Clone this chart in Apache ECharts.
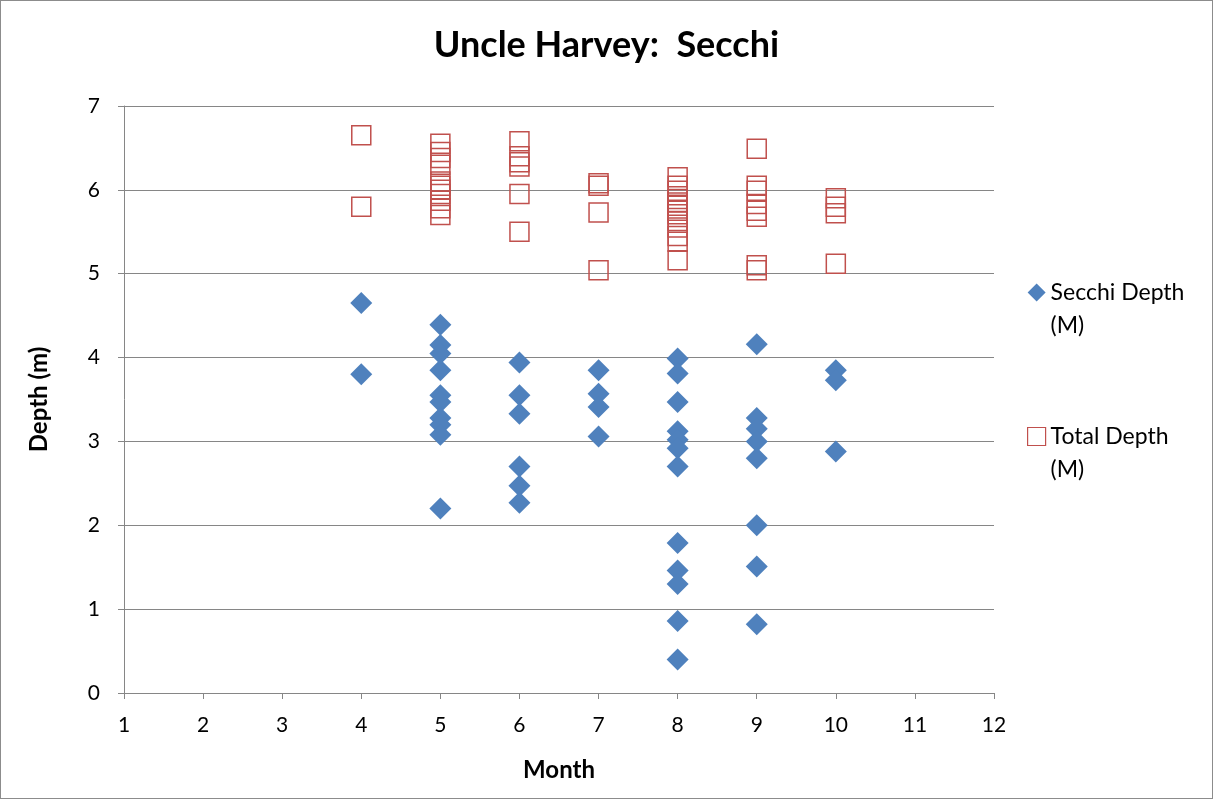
<!DOCTYPE html>
<html>
<head>
<meta charset="utf-8">
<script src="https://cdn.jsdelivr.net/npm/echarts@6/dist/echarts.min.js"></script>
<style>
html,body{margin:0;padding:0;background:#fff;}
#c{width:1213px;height:799px;box-sizing:border-box;border:1px solid #8c8c8c;}
</style>
</head>
<body>
<div id="c"></div>
<script>
// Month numbers for each column
const months = [4, 5, 6, 7, 8, 9, 10];
// Secchi depth values (m) per month
const secchi4 = [4.65, 3.8];
const secchi5 = [4.39, 4.15, 4.05, 3.85, 3.55, 3.47, 3.28, 3.2, 3.08, 2.2];
const secchi6 = [3.94, 3.55, 3.33, 2.7, 2.47, 2.27];
const secchi7 = [3.85, 3.57, 3.41, 3.06];
const secchi8 = [3.99, 3.81, 3.47, 3.12, 3.02, 2.92, 2.7, 1.79, 1.46, 1.3, 0.86, 0.4];
const secchi9 = [4.16, 3.28, 3.15, 3.0, 2.8, 2.0, 1.51, 0.82];
const secchi10 = [3.85, 3.73, 2.88];
// Total depth values (m) per month
const total4 = [6.65, 5.8];
const total5 = [6.55, 6.45, 6.38, 6.3, 6.1, 6.05, 6.0, 5.95, 5.87, 5.78, 5.7];
const total6 = [6.58, 6.4, 6.33, 6.28, 5.95, 5.5];
const total7 = [6.08, 6.05, 5.73, 5.04];
const total8 = [6.15, 6.05, 5.99, 5.89, 5.85, 5.81, 5.75, 5.71, 5.63, 5.55, 5.45, 5.38, 5.16];
const total9 = [6.49, 6.05, 5.99, 5.83, 5.75, 5.68, 5.1, 5.04];
const total10 = [5.9, 5.8, 5.72, 5.12];
const xTicks = [1,2,3,4,5,6,7,8,9,10,11,12];
const yTicks = [0,1,2,3,4,5,6,7];

const secchiByMonth = [secchi4, secchi5, secchi6, secchi7, secchi8, secchi9, secchi10];
const totalByMonth = [total4, total5, total6, total7, total8, total9, total10];
function pairs(groups){
  const out = [];
  groups.forEach((g,i)=>g.forEach(v=>out.push([months[i], v])));
  return out;
}

const FONT = 'Lato, "Open Sans", sans-serif';
const chart = echarts.init(document.getElementById('c'), null, {renderer:'canvas'});
chart.setOption({
  animation:false,
  backgroundColor:'#fff',
  textStyle:{fontFamily:FONT},
  title:{
    text:'Uncle Harvey:  Secchi',
    left:'center', top:21,
    textStyle:{fontFamily:FONT, fontSize:36, fontWeight:'bold', color:'#000'}
  },
  grid:{left:123, right:218, top:105, bottom:105, containLabel:false},
  xAxis:{
    type:'value', min:1, max:12, interval:1,
    name:'Month', nameLocation:'middle', nameGap:65,
    nameTextStyle:{fontFamily:FONT, fontSize:24, fontWeight:'bold', color:'#000'},
    axisLine:{show:true, onZero:false, lineStyle:{color:'#868686', width:1}},
    axisTick:{show:true, inside:false, length:6, lineStyle:{color:'#868686'}},
    axisLabel:{fontFamily:FONT, fontSize:21, color:'#000', margin:22,
      formatter:v=>xTicks.includes(v)?String(v):''},
    splitLine:{show:false}
  },
  yAxis:{
    type:'value', min:0, max:7, interval:1,
    name:'Depth (m)', nameLocation:'middle', nameGap:73, nameRotate:90,
    nameTextStyle:{fontFamily:FONT, fontSize:24, fontWeight:'bold', color:'#000'},
    axisLine:{show:true, lineStyle:{color:'#868686', width:1}},
    axisTick:{show:true, inside:false, length:6, lineStyle:{color:'#868686'}},
    axisLabel:{fontFamily:FONT, fontSize:21, color:'#000', margin:24,
      formatter:v=>yTicks.includes(v)?String(v):''},
    splitLine:{show:true, lineStyle:{color:'#868686', width:1}}
  },
  legend:{
    orient:'vertical', left:1026, top:242, itemGap:45, padding:0,
    itemWidth:18, itemHeight:18,
    textStyle:{fontFamily:FONT, fontSize:23, color:'#000', lineHeight:33},
    formatter:n=>' \n'+n.replace(' (M)','\n(M)'),
    data:[
      {name:'Secchi Depth (M)', icon:'diamond'},
      {name:'Total Depth (M)', icon:'rect', itemStyle:{color:'#fff', borderColor:'#C0504D', borderWidth:1.2}}
    ]
  },
  series:[
    {
      name:'Secchi Depth (M)', type:'scatter', symbol:'diamond', symbolSize:[22,22],
      itemStyle:{color:'#4F81BD', opacity:1},
      data:pairs(secchiByMonth)
    },
    {
      name:'Total Depth (M)', type:'scatter', symbol:'rect', symbolSize:[19,19],
      itemStyle:{color:'rgba(255,255,255,0)', borderColor:'#C0504D', borderWidth:1.5, opacity:1},
      data:pairs(totalByMonth)
    }
  ]
});
</script>
</body>
</html>
